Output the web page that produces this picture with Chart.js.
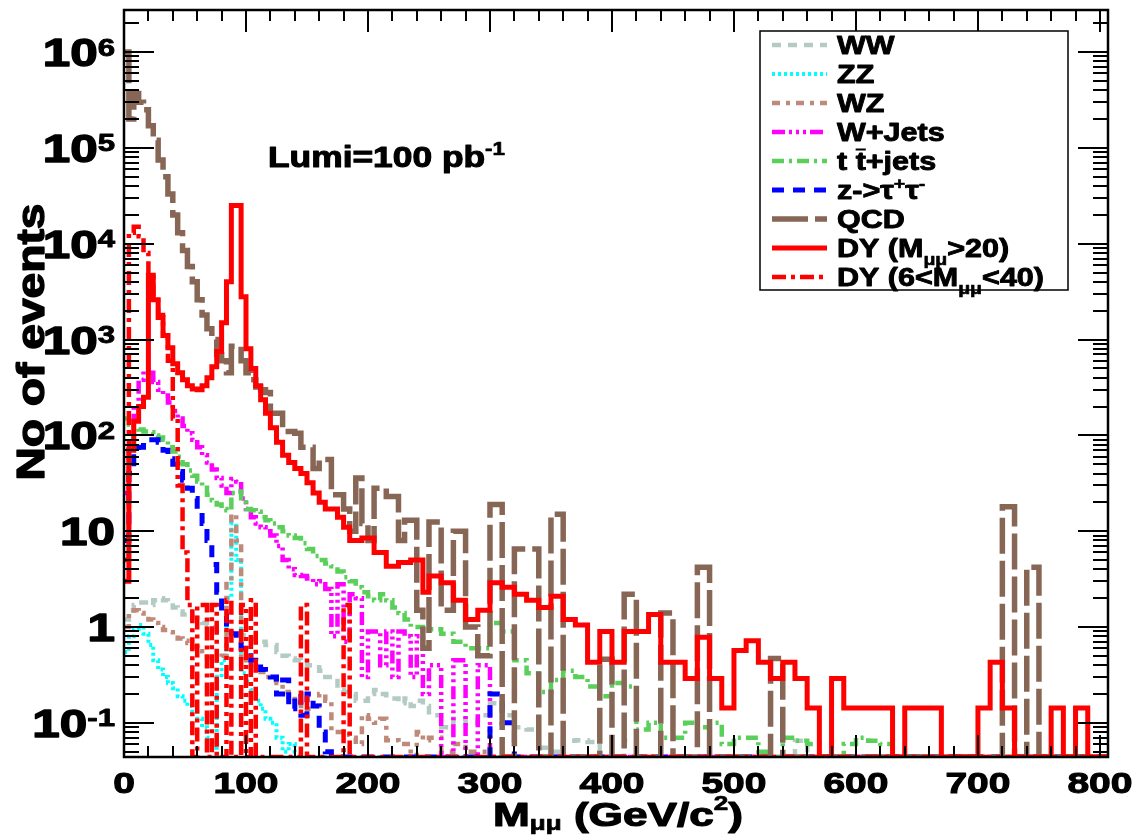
<!DOCTYPE html>
<html>
<head>
<meta charset="utf-8">
<title>Dimuon invariant mass</title>
<script src="https://cdn.jsdelivr.net/npm/chart.js@4.4.1/dist/chart.umd.min.js"></script>
<style>
  html, body { margin: 0; padding: 0; background: #fff; }
  #wrap { width: 1134px; height: 836px; }
</style>
</head>
<body>
<div id="wrap"><canvas id="massChart" width="1134" height="836"></canvas></div>
<script>
// bin edges in GeV/c^2 (last entry = upper edge of the last bin)
const binEdges = [
  0, 4, 8, 12, 16, 20, 24, 28, 32, 36, 40, 44, 48, 52, 56, 60, 64, 68, 72, 76,
  80, 84, 88, 92, 96, 100, 104, 108, 112, 116,
  120, 125, 130, 135, 140, 145, 150, 155, 160, 165, 170, 175, 180, 185, 190, 195,
  200, 205, 210, 215, 220, 225, 230, 235, 240, 245,
  250, 260, 270, 280, 290, 300, 310, 320, 330, 340, 350, 360, 370, 380, 390,
  400, 410, 420, 430, 440, 450, 460, 470, 480, 490, 500, 510, 520, 530, 540,
  550, 560, 570, 580, 590, 600, 610, 620, 630, 640, 650, 660, 670, 680, 690,
  700, 710, 720, 730, 740, 750, 760, 770, 780, 790, 800, 810
];

// events per bin (0 = empty bin)
const wwVals = [
  1.2, 1.5, 1.7, 1.8, 1.8, 1.7, 1.9, 2.0, 1.9, 1.8, 1.6, 1.45, 1.35, 1.3, 1.25, 1.2, 1.1, 1.05, 1.0, 0.93,
  0.9, 0.9, 0.87, 0.85, 0.82, 0.78, 0.75, 0.74, 0.7, 0.65,
  0.65, 0.55, 0.5, 0.47, 0.45, 0.42, 0.4, 0.38, 0.35, 0.3, 0.3, 0.22, 0.21, 0.2, 0.17, 0.17,
  0.2, 0.22, 0.2, 0.18, 0.18, 0.16, 0.18, 0.15, 0.17, 0.15,
  0.12, 0.09, 0.11, 0.1, 0.12, 0.16, 0.12, 0.09, 0.085, 0.055, 0.05, 0.065, 0.066, 0.063, 0,
  0, 0.065, 0, 0, 0, 0, 0, 0, 0, 0, 0, 0, 0, 0, 0,
  0.065, 0, 0, 0, 0, 0, 0, 0, 0, 0, 0, 0, 0, 0, 0,
  0, 0, 0, 0, 0, 0, 0, 0, 0, 0, 0
];
const zzVals = [
  0.55, 0.8, 0.95, 1.05, 0.85, 0.65, 0.45, 0.36, 0.3, 0.26, 0.23, 0.19, 0.17, 0.15, 0.13, 0.11, 0.09, 0.07, 0.055, 0.3,
  0.45, 2, 12, 5, 0.33, 0.27, 0.22, 0.17, 0.14, 0.11,
  0.1, 0.07, 0.05, 0.06, 0.05, 0, 0, 0, 0, 0, 0, 0, 0, 0, 0, 0,
  0, 0, 0, 0, 0, 0, 0, 0, 0, 0,
  0, 0, 0, 0, 0, 0, 0, 0, 0, 0, 0, 0, 0, 0, 0,
  0, 0, 0, 0, 0, 0, 0, 0, 0, 0, 0, 0, 0, 0, 0,
  0, 0, 0, 0, 0, 0, 0, 0, 0, 0, 0, 0, 0, 0, 0,
  0, 0, 0, 0, 0, 0, 0, 0, 0, 0, 0
];
const wzVals = [
  1.0, 1.4, 1.5, 1.4, 1.3, 1.2, 1.1, 1.0, 0.93, 0.88, 0.82, 0.76, 0.72, 0.68, 0.62, 0.56, 0.52, 0.48, 0.45, 0.45,
  0.5, 3, 15, 8, 0.47, 0.45, 0.42, 0.4, 0.34, 0.3,
  0.28, 0.26, 0.21, 0.19, 0.16, 0.15, 0.14, 0.15, 0.2, 0.17, 0.08, 0.08, 0.075, 0.07, 0.06, 0.12,
  0.11, 0.1, 0.11, 0.066, 0.066, 0.06, 0.06, 0, 0.08, 0.066,
  0.07, 0.05, 0.06, 0.05, 0.05, 0, 0, 0, 0, 0, 0, 0, 0, 0, 0,
  0, 0, 0, 0, 0, 0, 0, 0, 0, 0, 0, 0, 0, 0, 0,
  0, 0, 0, 0, 0, 0, 0, 0, 0, 0, 0, 0, 0, 0, 0,
  0, 0, 0, 0, 0, 0, 0, 0, 0, 0, 0
];
const wjetsVals = [
  25, 80, 200, 380, 480, 450, 360, 300, 260, 220, 180, 150, 125, 105, 90, 75, 62, 52, 44, 36,
  30, 25, 35, 33, 22, 17, 14, 12, 11, 10,
  9, 7, 5, 4, 3.5, 3.4, 3.2, 2.8, 3, 2.5, 0.8, 2.8, 0.7, 2.2, 2, 0.3,
  0.9, 0.9, 0.4, 0.9, 0.3, 0.9, 0.8, 0.3, 0.8, 0.2,
  0.4, 0, 0.45, 0, 0.4, 0, 0, 0, 0, 0, 0, 0, 0, 0, 0,
  0, 0, 0, 0, 0, 0, 0, 0, 0, 0, 0, 0, 0, 0, 0,
  0, 0, 0, 0, 0, 0, 0, 0, 0, 0, 0, 0, 0, 0, 0,
  0, 0, 0, 0, 0, 0, 0, 0, 0, 0, 0
];
const ttbarVals = [
  150, 130, 120, 115, 110, 108, 100, 95, 90, 75, 68, 60, 50, 43, 38, 33, 30, 24, 21, 19,
  17, 16.5, 25, 26, 20, 17, 16.5, 16, 14, 13,
  12, 11, 10, 9, 8.5, 7.5, 6.5, 5.5, 5, 4.6, 4.3, 3.8, 3.3, 3, 2.6, 2.3,
  2.1, 1.9, 2.2, 1.9, 1.6, 1.4, 1.2, 1.0, 1.0, 0.95,
  0.95, 0.85, 0.7, 0.6, 0.6, 1.1, 0.9, 0.45, 0.33, 0.21, 0.28, 0.35, 0.3, 0.24, 0.19,
  0.26, 0.24, 0.085, 0.1, 0.07, 0.07, 0.1, 0.09, 0.1, 0.06, 0.07, 0.07, 0.05, 0.04, 0.07,
  0.065, 0.06, 0.04, 0.03, 0.06, 0.07, 0.065, 0.06, 0, 0, 0, 0, 0, 0, 0,
  0, 0, 0, 0, 0, 0, 0, 0, 0, 0, 0
];
const ztautauVals = [
  8, 40, 60, 75, 85, 90, 90, 85, 70, 57, 50, 42, 34, 28, 22, 17, 12, 8, 4.5, 2.3,
  1.3, 1.0, 0.85, 0.75, 0.6, 0.55, 0.45, 0.42, 0.36, 0.33,
  0.3, 0.2, 0.28, 0.14, 0.2, 0.12, 0.2, 0.15, 0.08, 0.05, 0, 0, 0, 0, 0, 0,
  0, 0, 0, 0, 0, 0, 0, 0, 0, 0,
  0, 0, 0, 0, 0, 0.2, 0.1, 0, 0, 0, 0, 0, 0, 0, 0,
  0, 0, 0, 0, 0, 0, 0, 0, 0, 0, 0, 0, 0, 0, 0,
  0, 0, 0, 0, 0, 0, 0, 0, 0, 0, 0, 0, 0, 0, 0,
  0, 0, 0, 0, 0, 0, 0, 0, 0, 0, 0
];
const qcdVals = [
  1000000, 200000, 370000, 300000, 250000, 170000, 120000, 75000, 50000, 33000,
  20000, 13000, 8500, 5800, 4000, 2600, 1800, 1300, 1000, 700,
  600, 450, 850, 850, 600, 450, 380, 320, 300, 280,
  170, 170, 110, 110, 105, 75, 75, 45, 56, 56, 24, 24, 17, 10, 36, 12,
  8, 28, 28, 23, 23, 8, 13, 13, 1.5, 0.6,
  12.5, 1.5, 10, 1.0, 0.5, 19, 0, 6.5, 6.5, 0, 15, 0, 0, 0, 0.46,
  0, 2.2, 0, 0, 1.4, 0, 0, 4.2, 0, 0, 0, 0, 0, 0.47, 0,
  0, 0, 0, 0, 0, 0, 0, 0, 0, 0, 0, 0, 0, 0, 0,
  0, 0, 18, 0, 4.2, 0, 0, 0, 0, 0, 0
];
const dyHighVals = [
  3, 70, 140, 200, 250, 4700, 2600, 1700, 1100, 820, 560, 450, 380, 330, 305, 300, 330, 400, 520, 750,
  1500, 4000, 25000, 25000, 2800, 800, 500, 330, 235, 170,
  120, 85, 62, 52, 45, 40, 32, 25, 20, 17, 17, 14, 11, 8, 8, 8.5,
  8.5, 6, 6, 4.3, 4.3, 4.7, 4.7, 5, 5, 2.3,
  3.4, 2.9, 1.9, 1.2, 1.5, 2.9, 2.6, 2.2, 1.9, 1.6, 2.1, 1.2, 1.05, 0.43, 0.9,
  0.43, 0.9, 0.9, 1.35, 0.43, 0.43, 0.29, 0.78, 0.29, 0.143, 0.57, 0.72, 0.43, 0.29, 0.43,
  0.29, 0.143, 0, 0.29, 0.143, 0.143, 0.143, 0.143, 0, 0.143, 0.143, 0.143, 0, 0, 0,
  0.143, 0.43, 0.143, 0, 0, 0, 0.143, 0, 0.143, 0, 0
];
const dyLowVals = [
  5, 13000, 15000, 12000, 8000, 4500, 2800, 1800, 1100, 600, 150, 30, 6, 1.7, 0, 1.7, 1.7, 0, 1.7, 0,
  0, 1.9, 0, 0, 1.7, 0, 1.9, 0, 0, 0,
  0, 0, 0, 0, 0, 1.7, 0, 0, 0, 0, 0, 0, 1.7, 0, 0, 0,
  0, 0, 0, 0, 0, 0, 0, 0, 0, 0,
  0, 0, 0, 0, 0, 0, 0, 0, 0, 0, 0, 0, 0, 0, 0,
  0, 0, 0, 0, 0, 0, 0, 0, 0, 0, 0, 0, 0, 0, 0,
  0, 0, 0, 0, 0, 0, 0, 0, 0, 0, 0, 0, 0, 0, 0,
  0, 0, 0, 0, 0, 0, 0, 0, 0, 0, 0
];

// axis labels
const xTickValues = [0, 100, 200, 300, 400, 500, 600, 700, 800];
const xTickLabels = ["0", "100", "200", "300", "400", "500", "600", "700", "800"];
const yTickValues = [0.1, 1, 10, 100, 1000, 10000, 100000, 1000000];
const yTickBase = ["10", "1", "10", "10", "10", "10", "10", "10"];
const yTickExp = ["-1", "", "", "2", "3", "4", "5", "6"];

const Y_MIN = 0.044, Y_MAX = 2.75e6;
const FONT = '"Liberation Sans", Arial, Helvetica, sans-serif';

function toPoints(vals) {
  // empty / tiny bins sit on the bottom of the frame like ROOT does
  const pts = vals.map((v, i) => ({ x: binEdges[i], y: Math.max(v, Y_MIN) }));
  pts.push({ x: binEdges[vals.length], y: Math.max(vals[vals.length - 1], Y_MIN) });
  return pts;
}

function histo(label, vals, color, width, dash) {
  return {
    label: label,
    data: toPoints(vals),
    borderColor: color,
    borderWidth: width,
    borderDash: dash,
    borderCapStyle: 'butt',
    borderJoinStyle: 'miter',
    stepped: 'before',
    pointRadius: 0,
    fill: false
  };
}

// first in the list is drawn on top
const sets = {
  dyLow: histo('DY (6<M<40)', dyLowVals, '#ff0000', 4.5, [14, 5, 4, 5]),
  dyHigh: histo('DY (M>20)', dyHighVals, '#ff0000', 5, []),
  qcd: histo('QCD', qcdVals, '#876656', 5.5, [36, 7]),
  ztautau: histo('z->tautau', ztautauVals, '#0000ff', 5, [12, 9]),
  ttbar: histo('ttbar+jets', ttbarVals, '#5ad05a', 4.5, [12, 5, 3, 5]),
  wjets: histo('W+Jets', wjetsVals, '#ff00ff', 4.5, [13, 4, 3, 4, 3, 4, 3, 4]),
  wz: histo('WZ', wzVals, '#bf8a7a', 4.5, [8, 6, 4, 6]),
  zz: histo('ZZ', zzVals, '#00ffff', 4, [3, 3]),
  ww: histo('WW', wwVals, '#b3cbc3', 4.5, [9, 7])
};

const legendRows = [
  { set: 'ww', parts: [{ text: 'WW' }] },
  { set: 'zz', parts: [{ text: 'ZZ' }] },
  { set: 'wz', parts: [{ text: 'WZ' }] },
  { set: 'wjets', parts: [{ text: 'W+Jets' }] },
  { set: 'ttbar', parts: [{ text: 't ' }, { text: 't', bar: true }, { text: '+jets' }] },
  { set: 'ztautau', parts: [{ text: 'z->' }, { text: 'τ' }, { text: '+', size: 16, dy: -10 }, { text: 'τ' }, { text: '-', size: 16, dy: -10 }] },
  { set: 'qcd', parts: [{ text: 'QCD' }] },
  { set: 'dyHigh', parts: [{ text: 'DY (M' }, { text: 'μμ', size: 16, dy: 8 }, { text: '>20)' }] },
  { set: 'dyLow', parts: [{ text: 'DY (6<M' }, { text: 'μμ', size: 16, dy: 8 }, { text: '<40)' }] }
];

function partsWidth(ctx, parts, base) {
  let w = 0;
  parts.forEach(p => {
    ctx.font = 'bold ' + (p.size || base) + 'px ' + FONT;
    w += ctx.measureText(p.text).width;
  });
  return w;
}

// draws bold rich text, stretched horizontally by sx (ROOT output looks wide and heavy)
function drawParts(ctx, parts, x, y, align, sx, base) {
  const w = partsWidth(ctx, parts, base);
  let x0 = x;
  if (align === 'center') x0 = x - w * sx / 2;
  if (align === 'right') x0 = x - w * sx;
  ctx.save();
  ctx.translate(x0, y);
  ctx.scale(sx, 1);
  ctx.strokeStyle = ctx.fillStyle;
  ctx.lineJoin = 'round';
  let cx = 0;
  parts.forEach(p => {
    const size = p.size || base;
    ctx.font = 'bold ' + size + 'px ' + FONT;
    ctx.lineWidth = size / 28;
    ctx.fillText(p.text, cx, p.dy || 0);
    ctx.strokeText(p.text, cx, p.dy || 0);
    const pw = ctx.measureText(p.text).width;
    if (p.bar) ctx.fillRect(cx, (p.dy || 0) - size * 0.86, pw, 2);
    cx += pw;
  });
  ctx.restore();
}

const rootFrame = {
  id: 'rootFrame',
  afterDraw(chart) {
    const { ctx, chartArea: a } = chart;
    const xs = chart.scales.x, ys = chart.scales.y;
    ctx.save();
    ctx.fillStyle = '#000';
    ctx.strokeStyle = '#000';
    ctx.textBaseline = 'alphabetic';
    ctx.setLineDash([]);

    // ticks on all four sides, pointing inwards
    ctx.lineWidth = 2;
    ctx.beginPath();
    for (let v = 0; v <= xs.max; v += 20) {
      const px = Math.round(xs.getPixelForValue(v));
      const len = v % 100 === 0 ? 22 : 11;
      ctx.moveTo(px, a.bottom); ctx.lineTo(px, a.bottom - len);
      ctx.moveTo(px, a.top); ctx.lineTo(px, a.top + len);
    }
    for (let d = -2; d <= 6; d++) {
      for (let m = 1; m <= 9; m++) {
        const v = m * Math.pow(10, d);
        if (v < ys.min || v > ys.max) continue;
        const py = Math.round(ys.getPixelForValue(v));
        const len = m === 1 ? 30 : 15;
        ctx.moveTo(a.left, py); ctx.lineTo(a.left + len, py);
        ctx.moveTo(a.right, py); ctx.lineTo(a.right - len, py);
      }
    }
    ctx.stroke();
    ctx.lineWidth = 2.5;
    ctx.strokeRect(a.left, a.top, a.right - a.left, a.bottom - a.top);

    // y labels
    yTickValues.forEach((v, i) => {
      const py = ys.getPixelForValue(v);
      const parts = [{ text: yTickBase[i], size: 38, dy: 14 }];
      if (yTickExp[i]) parts.push({ text: yTickExp[i], size: 24, dy: 3.5 });
      drawParts(ctx, parts, a.left - 9, py, 'right', 1.3, 38);
    });
    // x labels
    xTickValues.forEach((v, i) => {
      drawParts(ctx, [{ text: xTickLabels[i] }], xs.getPixelForValue(v), 793, 'center', 1.3, 30);
    });

    // x title
    const xt = [{ text: 'M' }, { text: 'μμ', size: 20, dy: 4 }, { text: ' (GeV/c' }, { text: '2', size: 20, dy: -16 }, { text: ')' }];
    drawParts(ctx, xt, 618, 826, 'center', 250 / partsWidth(ctx, xt, 34), 34);

    // y title
    ctx.save();
    ctx.translate(44, 342);
    ctx.rotate(-Math.PI / 2);
    const yt = [{ text: 'No of events' }];
    drawParts(ctx, yt, 0, 0, 'center', 277 / partsWidth(ctx, yt, 38), 38);
    ctx.restore();

    // luminosity label
    const lt = [{ text: 'Lumi=100 pb' }, { text: '-1', size: 19, dy: -12 }];
    drawParts(ctx, lt, 268, 167, 'left', 237 / partsWidth(ctx, lt, 30), 30);

    // legend box
    ctx.fillStyle = '#fff';
    ctx.fillRect(760, 31, 308, 259);
    ctx.lineWidth = 1.5;
    ctx.strokeStyle = '#000';
    ctx.strokeRect(760, 31, 308, 259);
    legendRows.forEach((row, i) => {
      const ds = sets[row.set];
      const ry = 45 + i * 29;
      ctx.save();
      ctx.strokeStyle = ds.borderColor;
      ctx.lineWidth = ds.borderWidth;
      ctx.setLineDash(ds.borderDash);
      ctx.beginPath();
      ctx.moveTo(772, ry); ctx.lineTo(827, ry);
      ctx.stroke();
      ctx.restore();
      ctx.fillStyle = '#000';
      drawParts(ctx, row.parts, 837, ry + 9, 'left', 1.22, 25);
    });
    ctx.restore();
  }
};

new Chart(document.getElementById('massChart'), {
  type: 'line',
  data: { datasets: Object.values(sets) },
  options: {
    responsive: false,
    animation: false,
    devicePixelRatio: 1,
    layout: { padding: { left: 124, top: 10, right: 26, bottom: 79 } },
    scales: {
      x: { type: 'linear', min: 0, max: 806.6, display: false },
      y: { type: 'logarithmic', min: Y_MIN, max: Y_MAX, display: false }
    },
    plugins: { legend: { display: false }, tooltip: { enabled: false } }
  },
  plugins: [rootFrame]
});
</script>
</body>
</html>
